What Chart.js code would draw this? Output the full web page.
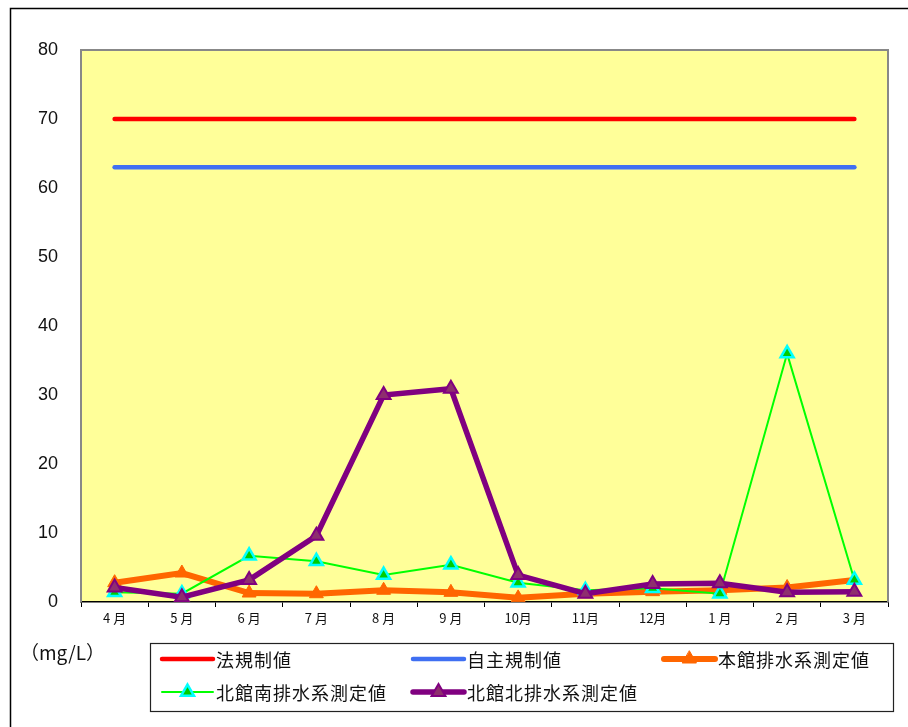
<!DOCTYPE html>
<html>
<head>
<meta charset="utf-8">
<script src="https://cdn.jsdelivr.net/npm/chart.js@4.4.1/dist/chart.umd.min.js"></script>
<style>
html,body{margin:0;padding:0;background:#fff;}
#wrap{position:relative;width:908px;height:727px;}
</style>
</head>
<body>
<div id="wrap"><canvas id="c" width="908" height="727"></canvas></div>
<script>
const months = ['4 月','5 月','6 月','7 月','8 月','9 月','10月','11月','12月','1 月','2 月','3 月'];
const yTicks = [0,10,20,30,40,50,60,70,80];
const legalLimit = [70,70,70,70,70,70,70,70,70,70,70,70];
const selfLimit = [63,63,63,63,63,63,63,63,63,63,63,63];
const honkan = [2.8,4.2,1.3,1.2,1.7,1.4,0.6,1.2,1.5,1.7,2.1,3.2];
const kitaMinami = [1.4,1.2,6.7,5.9,3.9,5.4,2.8,1.7,2.0,1.2,36.0,3.2];
const kitaKita = [2.1,0.7,3.2,9.6,30.0,30.9,3.9,1.2,2.6,2.7,1.4,1.5];
const seriesNames = ['法規制値','自主規制値','本館排水系測定値','北館南排水系測定値','北館北排水系測定値'];
const unitLabel = '（mg/L）';

const FONT = '"Liberation Sans", Arial, "Noto Sans CJK JP", sans-serif';
const CJK = '"Noto Sans CJK JP", "Liberation Sans", sans-serif';

const datasets = [
  {label:seriesNames[0], data:legalLimit, borderColor:'#FF0000', backgroundColor:'#FF0000', borderWidth:4.5, pointRadius:0, order:5, borderCapStyle:'round'},
  {label:seriesNames[1], data:selfLimit, borderColor:'#3F6FF2', backgroundColor:'#3F6FF2', borderWidth:4.5, pointRadius:0, order:4, borderCapStyle:'round'},
  {label:seriesNames[2], data:honkan, borderColor:'#FF6600', backgroundColor:'#FF6600', borderWidth:6, pointStyle:'triangle', pointRadius:8, pointBorderWidth:1, pointBorderColor:'#FF6600', pointBackgroundColor:'#FF6600', order:3},
  {label:seriesNames[3], data:kitaMinami, borderColor:'#00FF00', backgroundColor:'#00FF00', borderWidth:2, pointStyle:'triangle', pointRadius:7.5, pointBorderWidth:2.5, pointBorderColor:'#00FFFF', pointBackgroundColor:'#00CC00', order:2},
  {label:seriesNames[4], data:kitaKita, borderColor:'#800080', backgroundColor:'#800080', borderWidth:5.5, pointStyle:'triangle', pointRadius:8, pointBorderWidth:2, pointBorderColor:'#800080', pointBackgroundColor:'#8E2E6E', order:1}
];

function drawTri(ctx, x, y, r, fill, stroke, lw){
  ctx.save();
  ctx.beginPath();
  let rad = 0;
  ctx.moveTo(x + Math.sin(rad)*r, y - Math.cos(rad)*r);
  rad += 2*Math.PI/3;
  ctx.lineTo(x + Math.sin(rad)*r, y - Math.cos(rad)*r);
  rad += 2*Math.PI/3;
  ctx.lineTo(x + Math.sin(rad)*r, y - Math.cos(rad)*r);
  ctx.closePath();
  ctx.fillStyle = fill; ctx.fill();
  if (lw){ ctx.strokeStyle = stroke; ctx.lineWidth = lw; ctx.stroke(); }
  ctx.restore();
}

const framePlugin = {
  id:'frame',
  beforeDraw(chart){
    const {ctx, chartArea:a} = chart;
    ctx.save();
    ctx.fillStyle = '#FFFF99';
    ctx.fillRect(a.left, a.top, a.right-a.left, a.bottom-a.top);
    ctx.restore();
  },
  beforeDatasetsDraw(chart){
    const {ctx, chartArea:a} = chart;
    ctx.save();
    ctx.strokeStyle = '#888888';
    ctx.lineWidth = 2;
    ctx.beginPath();
    ctx.moveTo(a.left, a.bottom);
    ctx.lineTo(a.left, a.top);
    ctx.lineTo(a.right, a.top);
    ctx.lineTo(a.right, a.bottom);
    ctx.stroke();
    ctx.restore();
  },
  afterDraw(chart){
    const ctx = chart.ctx;
    ctx.save();
    // outer frame
    ctx.strokeStyle = '#000';
    ctx.lineWidth = 1.5;
    ctx.beginPath();
    ctx.moveTo(10.5, 727);
    ctx.lineTo(10.5, 8.5);
    ctx.lineTo(908, 8.5);
    ctx.stroke();
    // unit label
    ctx.fillStyle = '#111';
    ctx.font = '19px ' + CJK;
    ctx.textBaseline = 'middle';
    ctx.textAlign = 'left';
    ctx.fillText(unitLabel, 20, 653);
    // legend box
    ctx.strokeStyle = '#222';
    ctx.lineWidth = 1.2;
    ctx.strokeRect(150.5, 643.5, 743, 68);
    const pos = [[160,659],[411,659],[662,659],[160,692],[411,692]];
    chart.data.datasets.forEach((ds, i) => {
      const [x, y] = pos[i];
      ctx.strokeStyle = ds.borderColor;
      ctx.lineWidth = ds.borderWidth;
      ctx.lineCap = 'round';
      ctx.beginPath();
      ctx.moveTo(x+2, y); ctx.lineTo(x+53, y);
      ctx.stroke();
      if (ds.pointStyle === 'triangle'){
        drawTri(ctx, x+27.5, y, ds.pointRadius, ds.pointBackgroundColor, ds.pointBorderColor, ds.pointBorderWidth);
      }
      ctx.fillStyle = '#111';
      ctx.font = '18px ' + CJK;
      ctx.textBaseline = 'middle';
      ctx.textAlign = 'left';
      ctx.letterSpacing = '1px';
      ctx.fillText(ds.label, x+56, y+1);
      ctx.letterSpacing = '0px';
    });
    ctx.restore();
  }
};

new Chart(document.getElementById('c'), {
  type:'line',
  data:{labels:months, datasets:datasets},
  options:{
    responsive:false,
    animation:false,
    layout:{padding:{left:0, top:50, right:20, bottom:95}},
    elements:{line:{tension:0, fill:false}},
    plugins:{legend:{display:false}, tooltip:{enabled:false}},
    scales:{
      x:{
        type:'category',
        offset:true,
        grid:{display:true, drawOnChartArea:false, drawTicks:true, tickLength:5, offset:true, color:'#000', lineWidth:1},
        border:{display:true, color:'#000', width:1.5},
        ticks:{font:{size:13, family:CJK}, color:'#111', padding:3, maxRotation:0, autoSkip:false},
        afterFit(s){ s.height = 30; }
      },
      y:{
        min:0, max:80,
        afterBuildTicks(s){ s.ticks = yTicks.map(v => ({value:v})); },
        grid:{display:false, drawTicks:false},
        border:{display:false},
        ticks:{font:{size:18, family:FONT}, color:'#111', padding:23},
        afterFit(s){ s.width = 81; }
      }
    }
  },
  plugins:[framePlugin]
});
</script>
</body>
</html>
